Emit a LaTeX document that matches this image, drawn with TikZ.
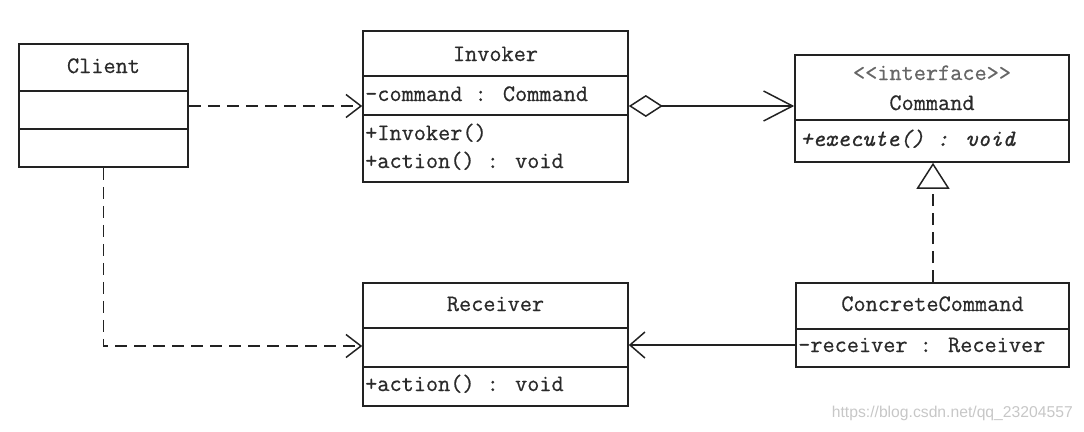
\documentclass[tikz,border=0pt]{standalone}
\usepackage{fontspec}
\newfontfamily\wmfont{Liberation Sans}
\newfontfamily\umlfont{Latin Modern Mono}[FakeBold=0.6]
\usetikzlibrary{arrows.meta}
\definecolor{ink}{HTML}{222222}
\definecolor{txt}{HTML}{2a2a2a}
\begin{document}
\begin{tikzpicture}[x=1pt,y=-1pt,
  classbox/.style={draw=ink,line width=1.6pt,rectangle,inner sep=0pt},
  lbl/.style={anchor=base west,inner sep=0pt,text=txt,font=\fontsize{23.6}{26}\umlfont\bfseries},
  ttl/.style={anchor=base,inner sep=0pt,text=txt,font=\fontsize{23.6}{26}\umlfont\bfseries},
  divline/.style={draw=ink,line width=1.6pt},
  dep/.style={draw=ink,line width=1.5pt,dash pattern=on 12pt off 7pt,-{Straight Barb[length=15pt,width=23pt,line width=1.5pt]}},
  assoc/.style={draw=ink,line width=1.5pt,-{Straight Barb[length=15pt,width=26pt,line width=1.5pt]}},
  agg/.style={draw=ink,line width=1.5pt,{Diamond[open,length=34pt,width=22pt,line width=1.5pt]}-{Straight Barb[length=29pt,width=30pt,line width=1.5pt]}},
  real/.style={draw=ink,line width=1.5pt,dash pattern=on 12pt off 7pt,-{Triangle[open,length=26pt,width=33pt,line width=1.5pt]}}
]
\useasboundingbox (0,0) rectangle (1084,431);

% Client
\node[classbox,minimum width=169pt,minimum height=123pt] (client) at (103.5,105.5) {};
\draw[divline] (client.west |- 0,91) -- (client.east |- 0,91);
\draw[divline] (client.west |- 0,129) -- (client.east |- 0,129);
\node[ttl] (clientT) at (103.5,73) {Client};

% Invoker
\node[classbox,minimum width=265pt,minimum height=151pt] (inv) at (495.5,106.5) {};
\draw[divline] (inv.west |- 0,76) -- (inv.east |- 0,76);
\draw[divline] (inv.west |- 0,115) -- (inv.east |- 0,115);
\node[ttl] (invT) at (495.5,61) {Invoker};
\node[lbl] (invA) at (365,101) {-command : Command};
\node[lbl] (invM1) at (365,140) {+Invoker()};
\node[lbl] (invM2) at (365,168) {+action() : void};

% Command
\node[classbox,minimum width=274pt,minimum height=107pt] (cmd) at (932,108.5) {};
\draw[divline] (cmd.west |- 0,120) -- (cmd.east |- 0,120);
\node[ttl,text=black!60] (cmdS) at (932,80) {<<interface>>};
\node[ttl] (cmdT) at (932,110) {Command};
\node[lbl,font=\fontsize{23.6}{26}\umlfont\itshape] (cmdM) at (800,146) {+execute() : void};

% Receiver
\node[classbox,minimum width=265pt,minimum height=123pt] (recv) at (495.5,344.5) {};
\draw[divline] (recv.west |- 0,328) -- (recv.east |- 0,328);
\draw[divline] (recv.west |- 0,367) -- (recv.east |- 0,367);
\node[ttl] (recvT) at (495.5,311) {Receiver};
\node[lbl] (recvM) at (365,391) {+action() : void};

% ConcreteCommand
\node[classbox,minimum width=273pt,minimum height=84pt] (cc) at (932.5,325) {};
\draw[divline] (cc.west |- 0,329) -- (cc.east |- 0,329);
\node[ttl] (ccT) at (932.5,311) {ConcreteCommand};
\node[lbl] (ccA) at (798,352) {-receiver : Receiver};

% connectors
\draw[dep] (client.east |- 0,106) -- (inv.west |- 0,106);
\draw[dep] (client.south) |- (recv.west |- 0,346);
\draw[agg] (inv.east |- 0,106) -- (cmd.west |- 0,106);
\draw[assoc] (cc.west |- 0,345) -- (recv.east |- 0,345);
\draw[real] (cc.north -| 933,0) -- (cmd.south -| 933,0);

% watermark
\node[anchor=base east,inner sep=0pt,text=black!22,font=\fontsize{15.7}{16}\wmfont] (wm) at (1073,417) {https://blog.csdn.net/qq\_23204557};
\end{tikzpicture}
\end{document}
